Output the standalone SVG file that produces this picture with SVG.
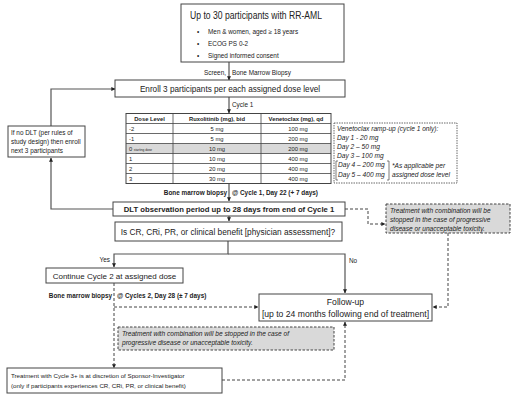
<svg xmlns="http://www.w3.org/2000/svg" width="520" height="401" viewBox="0 0 520 401">
<defs>
<marker id="ah" viewBox="0 0 6 6" refX="5.5" refY="3" markerWidth="4" markerHeight="4" orient="auto" markerUnits="userSpaceOnUse">
<path d="M0,0 L6,3 L0,6 z" fill="#222"/>
</marker>
<style>
text{font-family:"Liberation Sans",Arial,sans-serif;fill:#222}
.box{fill:#fff;stroke:#444;stroke-width:1}
.gray{fill:#d9d9d9;stroke:#444;stroke-width:1;stroke-dasharray:2.5,1.5}
.dbox{fill:#fff;stroke:#444;stroke-width:0.8;stroke-dasharray:1.5,1}
.ln{fill:none;stroke:#555;stroke-width:1.2}
.dl{fill:none;stroke:#444;stroke-width:1;stroke-dasharray:3,2}
.t9{font-size:8.3px}
.t7{font-size:6.4px}
.it{font-style:italic;font-size:6.6px}
.b{font-weight:bold}
.th{font-size:5.8px;font-weight:bold}
.td{font-size:5.8px}
.c{text-anchor:middle}
.tl{stroke:#444;stroke-width:0.8}
</style>
</defs>
<rect width="520" height="401" fill="#fff"/>

<g id="connectors">
<path class="ln" d="M229,62 V80" marker-end="url(#ah)"/>
<path class="ln" d="M229,97 V113" marker-end="url(#ah)"/>
<path class="ln" d="M229,184 V201" marker-end="url(#ah)"/>
<path class="ln" d="M229,216 V221" marker-end="url(#ah)"/>
<path class="ln" d="M113,209 H51 V158" marker-end="url(#ah)"/>
<path class="ln" d="M51,126 V89 H115" marker-end="url(#ah)"/>
<path class="ln" d="M228,241 V254 H114 V267" marker-end="url(#ah)"/>
<path class="ln" d="M228,254 H345 V293" marker-end="url(#ah)"/>
<path class="dl" d="M345,209 H368 V224 H385" marker-end="url(#ah)"/>
<path class="dl" d="M448,233 V307 H433" marker-end="url(#ah)"/>
<path class="dl" d="M114,283 V368" marker-end="url(#ah)"/>
<path class="dl" d="M114,307 H258" marker-end="url(#ah)"/>
<path class="dl" d="M222,380 H345 V322" marker-end="url(#ah)"/>
<text class="t7" x="226" y="75" text-anchor="end">Screen,</text>
<text class="t7" x="232" y="75">Bone Marrow Biopsy</text>
<text class="t7" x="232" y="107">Cycle 1</text>
<text class="t7 b" x="227" y="195" text-anchor="end">Bone marrow biopsy</text>
<text class="t7 b" x="232" y="195">@ Cycle 1, Day 22 (+ 7 days)</text>
<text class="t7" x="110" y="262" text-anchor="end">Yes</text>
<text class="t7" x="349" y="263">No</text>
<text class="t7 b" x="112" y="298" text-anchor="end">Bone marrow biopsy</text>
<text class="t7 b" x="117" y="298">@ Cycles 2, Day 28 (± 7 days)</text>
</g>

<g id="n-start">
<rect class="box" x="181" y="4" width="163" height="58"/>
<text x="190" y="19" font-size="10.5" textLength="132" lengthAdjust="spacingAndGlyphs">Up to 30 participants with RR-AML</text>
<text class="t7" x="197" y="34">•</text><text class="t7" x="208" y="34">Men &amp; women, aged ≥ 18 years</text>
<text class="t7" x="197" y="46">•</text><text class="t7" x="208" y="46">ECOG PS 0-2</text>
<text class="t7" x="197" y="58">•</text><text class="t7" x="208" y="58">Signed informed consent</text>
</g>

<g id="n-enroll">
<rect class="box" x="115" y="80" width="230" height="17"/>
<text class="c" font-size="8.2px" x="230" y="92">Enroll 3 participants per each assigned dose level</text>
</g>

<g id="n-nodlt">
<rect class="box" x="8" y="126" width="77" height="31"/>
<text class="t7" x="11" y="135">If no DLT (per rules of</text>
<text class="t7" x="11" y="144">study design) then enroll</text>
<text class="t7" x="11" y="153">next 3 participants</text>
</g>

<g id="n-table">
<rect x="126" y="143.5" width="205" height="10" fill="#d9d9d9"/>
<rect x="126" y="113.5" width="205" height="70" fill="none" stroke="#444" stroke-width="1"/>
<path class="tl" d="M126,123.5H331M126,133.5H331M126,143.5H331M126,153.5H331M126,163.5H331M126,173.5H331M173,113.5V183.5M261,113.5V183.5"/>
<text class="th c" x="149.5" y="121">Dose Level</text>
<text class="th c" x="217" y="121">Ruxolitinib (mg), bid</text>
<text class="th c" x="296" y="121">Venetoclax (mg), qd</text>
<text class="td" x="129" y="131">-2</text><text class="td c" x="217" y="131">5 mg</text><text class="td c" x="298" y="131">100 mg</text>
<text class="td" x="129" y="141">-1</text><text class="td c" x="217" y="141">5 mg</text><text class="td c" x="298" y="141">200 mg</text>
<text class="td" x="129" y="151">0 <tspan font-size="3.2px">starting dose</tspan></text><text class="td c" x="217" y="151">10 mg</text><text class="td c" x="298" y="151">200 mg</text>
<text class="td" x="129" y="161">1</text><text class="td c" x="217" y="161">10 mg</text><text class="td c" x="298" y="161">400 mg</text>
<text class="td" x="129" y="171">2</text><text class="td c" x="217" y="171">20 mg</text><text class="td c" x="298" y="171">400 mg</text>
<text class="td" x="129" y="181">3</text><text class="td c" x="217" y="181">30 mg</text><text class="td c" x="298" y="181">400 mg</text>
</g>

<g id="n-rampup">
<rect class="dbox" x="334" y="123" width="123" height="60"/>
<text class="it" x="337" y="131">Venetoclax ramp-up (cycle 1 only):</text>
<text class="it" x="337" y="140">Day 1 - 20 mg</text>
<text class="it" x="337" y="149">Day 2 – 50 mg</text>
<text class="it" x="337" y="158">Day 3 – 100 mg</text>
<text class="it" x="338" y="167">Day 4 – 200 mg</text>
<text class="it" x="338" y="177">Day 5 – 400 mg</text>
<path d="M338,161 H336 V180 H338 M387,161 H389 V180 H387" fill="none" stroke="#444" stroke-width="0.7"/>
<text class="it" x="392" y="168">*As applicable per</text>
<text class="it" x="392" y="177">assigned dose level</text>
</g>

<g id="n-dlt">
<rect class="box" x="113" y="202" width="232" height="14"/>
<text class="b c" x="229" y="212" font-size="7.7px">DLT observation period up to 28 days from end of Cycle 1</text>
</g>

<g id="n-stop1">
<rect class="gray" x="386" y="204" width="124" height="29"/>
<text class="it" x="390" y="213">Treatment with combination will be</text>
<text class="it" x="390" y="222">stopped in the case of progressive</text>
<text class="it" x="390" y="231">disease or unacceptable toxicity.</text>
</g>

<g id="n-question">
<rect class="box" x="115" y="222" width="227" height="19"/>
<text class="t9 c" x="228" y="235">Is CR, CRi, PR, or clinical benefit [physician assessment]?</text>
</g>

<g id="n-continue">
<rect class="box" x="46" y="268" width="137" height="15"/>
<text class="c" font-size="8px" x="114.5" y="279">Continue Cycle 2 at assigned dose</text>
</g>

<g id="n-followup">
<rect class="box" x="259" y="294" width="173" height="27"/>
<text class="c" font-size="8.6px" x="345.5" y="305">Follow-up</text>
<text class="c" font-size="8.6px" x="345.5" y="317">[up to 24 months following end of treatment]</text>
</g>

<g id="n-stop2">
<rect class="gray" x="118" y="327" width="216" height="23"/>
<text class="it" x="122" y="336">Treatment with combination will be stopped in the case of</text>
<text class="it" x="122" y="345">progressive disease or unacceptable toxicity.</text>
</g>

<g id="n-cycle3">
<rect class="box" x="7" y="368" width="215" height="25"/>
<text font-size="6.2px" x="11" y="378">Treatment with Cycle 3+ is at discretion of Sponsor-Investigator</text>
<text font-size="6.2px" x="11" y="388">(only if participants experiences CR, CRi, PR, or clinical benefit)</text>
</g>
</svg>
